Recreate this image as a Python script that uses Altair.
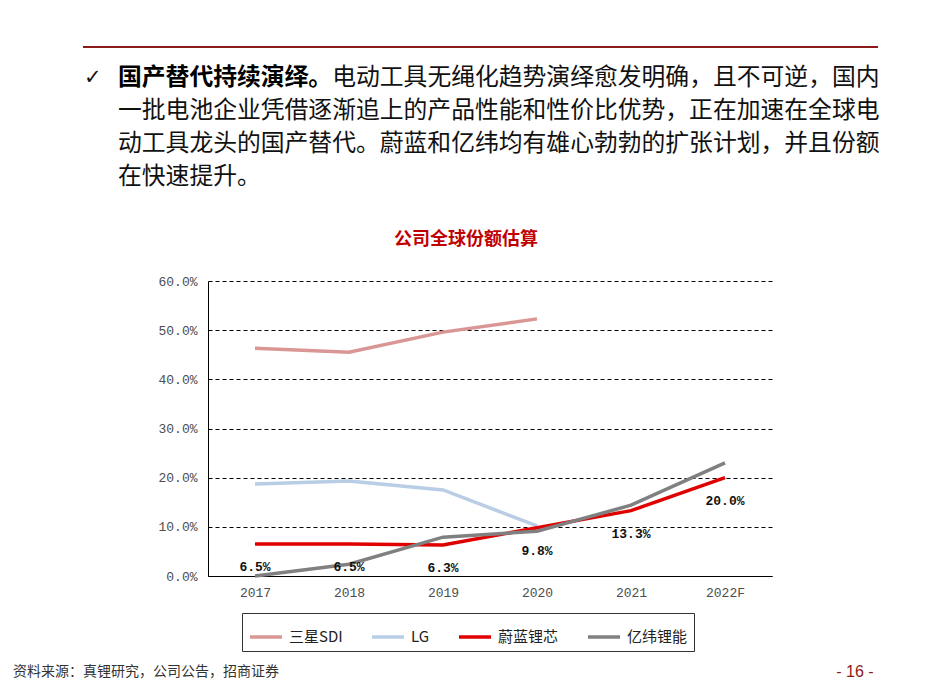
import altair as alt
import pandas as pd

years = ["2017", "2018", "2019", "2020", "2021", "2022F"]
series_names = ["三星SDI", "LG", "蔚蓝锂芯", "亿纬锂能"]
samsung = [0.463, 0.455, 0.496, 0.523, None, None]
lg = [0.187, 0.193, 0.175, 0.102, None, None]
weilan = [0.065, 0.065, 0.063, 0.098, 0.133, 0.200]
yiwei = [0.000, 0.024, 0.079, 0.091, 0.144, 0.230]
colors = ["#d99694", "#b9cde5", "#e00000", "#808080"]
y_ticks = [0.0, 0.1, 0.2, 0.3, 0.4, 0.5, 0.6]

chart_title = "公司全球份额估算"
bullet_bold = "国产替代持续演绎。"
bullet_line1 = "电动工具无绳化趋势演绎愈发明确，且不可逆，国内"
bullet_rest = [
    "一批电池企业凭借逐渐追上的产品性能和性价比优势，正在加速在全球电",
    "动工具龙头的国产替代。蔚蓝和亿纬均有雄心勃勃的扩张计划，并且份额",
    "在快速提升。",
]
source_text = "资料来源：真锂研究，公司公告，招商证券"
page_text = "- 16 -"

rows = []
for name, vals in zip(series_names, [samsung, lg, weilan, yiwei]):
    for i, (yr, v) in enumerate(zip(years, vals)):
        if v is not None:
            rows.append({"year": yr, "series": name, "value": v, "order": i})
df = pd.DataFrame(rows)
df_labels = df[df["series"] == "蔚蓝锂芯"].copy()

W, H = 564, 295
CJK = "Noto Sans CJK SC"
MONO = "Liberation Mono"
FS = 23.8

x_enc = alt.X("year:N", sort=years, title=None,
              scale=alt.Scale(type="point", padding=0.5),
              axis=alt.Axis(labelAngle=0, ticks=False, domainColor="#000000",
                            labelFont=MONO, labelFontSize=13, labelColor="#4d4d4d",
                            labelPadding=10, grid=False))
y_enc = alt.Y("value:Q", title=None,
              scale=alt.Scale(domain=[0, 0.6], nice=False),
              axis=alt.Axis(values=y_ticks, format=".1%", ticks=False,
                            domainColor="#000000", labelFont=MONO, labelFontSize=13,
                            labelColor="#4d4d4d", labelPadding=11,
                            grid=True, gridColor="#000000", gridDash=[4, 3],
                            gridWidth=1))

lines = alt.Chart(df).mark_line(strokeWidth=3.5, strokeCap="butt").encode(
    x=x_enc,
    y=y_enc,
    color=alt.Color("series:N", sort=series_names,
                    scale=alt.Scale(domain=series_names, range=colors),
                    legend=alt.Legend(title=None, orient="none", legendX=34, legendY=332,
                                      direction="horizontal", columns=4,
                                      symbolType="stroke", symbolSize=1024,
                                      symbolStrokeWidth=3.5, labelFont=CJK,
                                      labelFontSize=15, labelColor="#222222",
                                      labelOffset=5, columnPadding=22, padding=6,
                                      strokeColor="#333333", fillColor="#ffffff")),
    order="order:Q",
)

labels = alt.Chart(df_labels).mark_text(font=MONO, fontSize=13, fontWeight="bold",
                                        color="#111111", dy=23).encode(
    x=alt.X("year:N", sort=years),
    y="value:Q",
    text=alt.Text("value:Q", format=".1%"),
)

def one(t):
    return pd.DataFrame({"t": [t]})

top_rule = alt.Chart(one("r")).mark_rule(color="#8b1a1a", strokeWidth=2).encode(
    x=alt.value(-125), x2=alt.value(670), y=alt.value(-234))

check = alt.Chart(one("✓")).mark_text(font="DejaVu Sans", fontSize=21, align="left",
                                       baseline="middle", color="#111111").encode(
    text="t:N", x=alt.value(-124), y=alt.value(-203))

bold_txt = alt.Chart(one(bullet_bold)).mark_text(font=CJK, fontSize=FS, fontWeight="bold",
                                                 align="left", baseline="middle",
                                                 color="#000000").encode(
    text="t:N", x=alt.value(-90), y=alt.value(-203))

line1_txt = alt.Chart(one(bullet_line1)).mark_text(font=CJK, fontSize=FS, align="left",
                                                   baseline="middle",
                                                   color="#111111").encode(
    text="t:N", x=alt.value(-90 + 9 * FS), y=alt.value(-203))

rest_df = pd.DataFrame({"t": bullet_rest, "i": list(range(len(bullet_rest)))})
rest_txt = alt.Chart(rest_df).transform_calculate(
    yy="-170 + 33 * datum.i").mark_text(font=CJK, fontSize=FS, align="left",
                                          baseline="middle", color="#111111").encode(
    text="t:N", x=alt.value(-90), y=alt.Y("yy:Q", scale=None))

title_txt = alt.Chart(one(chart_title)).mark_text(font=CJK, fontSize=18, fontWeight="bold",
                                                  align="center", baseline="middle",
                                                  color="#c00000").encode(
    text="t:N", x=alt.value(258), y=alt.value(-41))

source_txt = alt.Chart(one(source_text)).mark_text(font=CJK, fontSize=14, align="left",
                                                   baseline="middle",
                                                   color="#333333").encode(
    text="t:N", x=alt.value(-195), y=alt.value(391))

page_txt = alt.Chart(one(page_text)).mark_text(font="Liberation Sans", fontSize=16,
                                               align="center", baseline="middle",
                                               color="#8b1a1a").encode(
    text="t:N", x=alt.value(647), y=alt.value(391))

chart = alt.layer(
    lines, labels, top_rule, check, bold_txt, line1_txt, rest_txt, title_txt,
    source_txt, page_txt
).properties(
    width=W, height=H,
    autosize=alt.AutoSizeParams(type="none"),
    padding={"left": 200, "top": 273, "right": 165, "bottom": 106},
    background="#ffffff",
).configure_view(stroke=None)

chart.save("out.html", embed_options={"renderer": "svg", "actions": False})
